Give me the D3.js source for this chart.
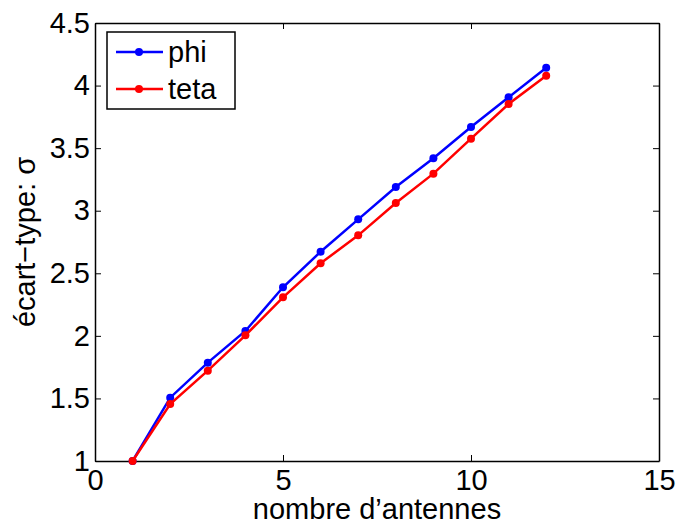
<!DOCTYPE html>
<html lang="en">
	<head>
		<meta charset="utf-8">
		<title>ecart-type vs nombre d'antennes</title>
		<script type="text/javascript" src="https://cdn.jsdelivr.net/npm/d3@7"></script>
		<style type="text/css">
			body { margin: 0; background: #fff; }
			text { font-family: "Liberation Sans", Arial, sans-serif; }
		</style>
	</head>
	<body>
		<script type="text/javascript">

			//Data
			var antennes = [1, 2, 3, 4, 5, 6, 7, 8, 9, 10, 11, 12];
			var phi  = [1.00, 1.506, 1.786, 2.039, 2.388, 2.672, 2.931, 3.190, 3.419, 3.669, 3.906, 4.143];
			var teta = [1.00, 1.455, 1.722, 2.004, 2.308, 2.580, 2.803, 3.062, 3.296, 3.576, 3.853, 4.079];
			var xTicks = [0, 5, 10, 15];
			var yTicks = [1, 1.5, 2, 2.5, 3, 3.5, 4, 4.5];

			//Size and plot box
			var w = 677, h = 525;
			var mLeft = 95, mRight = 659, mTop = 23, mBottom = 461;
			var fs = 29;

			var svg = d3.select("body").append("svg")
						.attr("width", w).attr("height", h);

			var x = d3.scaleLinear().domain([0, 15]).range([mLeft, mRight]);
			var y = d3.scaleLinear().domain([1, 4.5]).range([mBottom, mTop]);

			//Axes (ticks inward, mirrored box)
			svg.append("g").attr("transform", "translate(0," + mBottom + ")")
				.call(d3.axisBottom(x).tickValues(xTicks).tickSizeInner(-6).tickSizeOuter(0).tickPadding(8).tickFormat(d3.format("d")));
			svg.append("g").attr("transform", "translate(0," + mTop + ")")
				.call(d3.axisTop(x).tickValues(xTicks).tickSizeInner(-6).tickSizeOuter(0).tickFormat(""));
			svg.append("g").attr("transform", "translate(" + mLeft + ",0)")
				.call(d3.axisLeft(y).tickValues(yTicks).tickSizeInner(-6).tickSizeOuter(0).tickPadding(5).tickFormat(function(d){ return String(d); }));
			svg.append("g").attr("transform", "translate(" + mRight + ",0)")
				.call(d3.axisRight(y).tickValues(yTicks).tickSizeInner(-6).tickSizeOuter(0).tickFormat(""));

			svg.selectAll(".domain").attr("stroke", "#000").attr("stroke-width", 1.5);
			svg.selectAll(".tick line").attr("stroke", "#000");
			svg.selectAll(".tick text").attr("font-size", fs).attr("fill", "#000")
				.style("font-family", "'Liberation Sans', Arial, sans-serif");

			//Series
			var series = [
				{name: "phi", values: phi, color: "#0000ff"},
				{name: "teta", values: teta, color: "#ff0000"}
			];

			var line = d3.line()
				.x(function(d, i) { return x(antennes[i]); })
				.y(function(d) { return y(d); });

			series.forEach(function(s) {
				svg.append("path")
					.attr("d", line(s.values))
					.attr("fill", "none")
					.attr("stroke", s.color)
					.attr("stroke-width", 2.5);
				svg.selectAll(null)
					.data(s.values)
					.enter()
					.append("circle")
					.attr("cx", function(d, i) { return x(antennes[i]); })
					.attr("cy", function(d) { return y(d); })
					.attr("r", 4)
					.attr("fill", s.color);
			});

			//Axis labels
			svg.append("text")
				.attr("x", (mLeft + mRight) / 2).attr("y", 519)
				.attr("text-anchor", "middle").attr("font-size", fs)
				.text("nombre d\u2019antennes");
			svg.append("text")
				.attr("transform", "translate(35," + ((mTop + mBottom) / 2) + ") rotate(-90)")
				.attr("text-anchor", "middle").attr("font-size", fs)
				.text("\u00e9cart\u2212type: \u03c3");

			//Legend
			var lg = svg.append("g");
			lg.append("rect")
				.attr("x", 107).attr("y", 32).attr("width", 128).attr("height", 77)
				.attr("fill", "#fff").attr("stroke", "#000").attr("stroke-width", 1.5);
			series.forEach(function(s, i) {
				var ly = 52 + i * 37;
				lg.append("line")
					.attr("x1", 116).attr("x2", 163).attr("y1", ly).attr("y2", ly)
					.attr("stroke", s.color).attr("stroke-width", 2.5);
				lg.append("circle").attr("cx", 139).attr("cy", ly).attr("r", 4).attr("fill", s.color);
				lg.append("text").attr("x", 168).attr("y", ly + 10)
					.attr("font-size", fs).text(s.name);
			});

		</script>
	</body>
</html>
